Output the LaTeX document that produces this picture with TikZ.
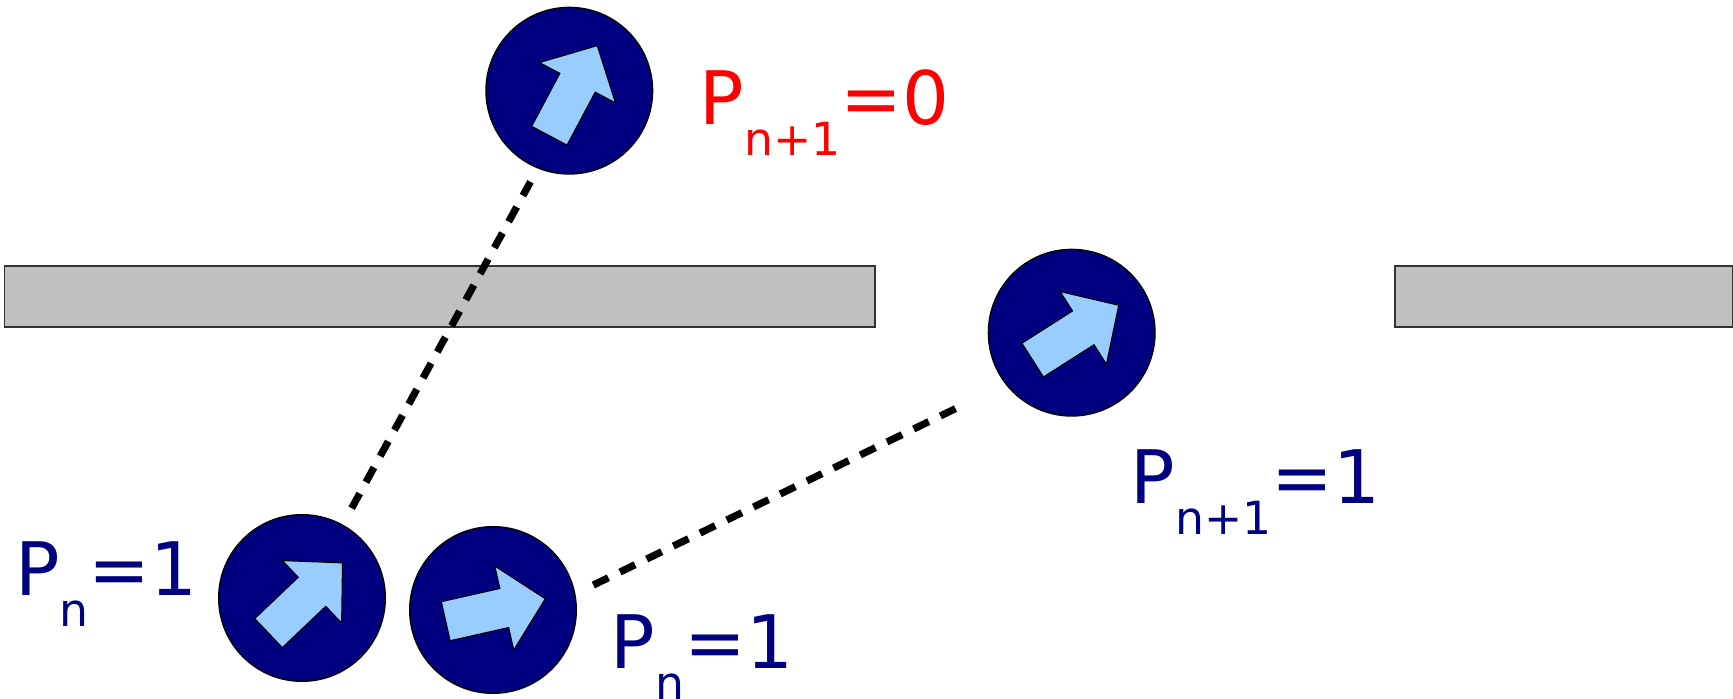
\documentclass[tikz,border=0pt]{standalone}
\usepackage{fontspec}
\setmainfont{DejaVu Sans}
\usepackage{xcolor}
\usepackage{tikz}
\definecolor{navy}{HTML}{000080}
\definecolor{spinblue}{HTML}{99CCFF}
\definecolor{wallgray}{HTML}{C0C0C0}
\newcommand{\plab}[2]{P\raisebox{-0.31cm}{\fontsize{13}{14}\selectfont #1}=#2}

\begin{document}
\begin{tikzpicture}[font=\fontsize{21}{21}\selectfont,
  particle/.style={circle,draw=black,line width=0.4pt,fill=navy,minimum size=1.666cm,inner sep=0pt,outer sep=0pt},
  wall/.style={draw=black!80,line width=0.5pt,fill=wallgray},
  link/.style={line width=0.072cm,dash pattern=on 0.168cm off 0.129cm},
  prob/.style={anchor=base west,inner sep=0pt},
  pics/spin/.style={code={
    \filldraw[fill=spinblue,draw=black,line width=0.3pt] (-0.51,-0.2) -- (0.09,-0.2) -- (0.09,-0.43) -- (0.51,0) -- (0.09,0.43) -- (0.09,0.2) -- (-0.51,0.2) -- cycle;
  }}]
\useasboundingbox (0,0) rectangle (17.33,6.99);
\draw[wall] (0.045,3.717) rectangle (8.75,4.33);
\draw[wall] (13.95,3.717) rectangle (17.325,4.33);

\node[particle] (ptop) at (5.693,6.083) {};
\node[particle] (pright) at (10.717,3.663) {};
\node[particle] (pleft) at (3.02,1.01) {};
\node[particle] (pmid) at (4.93,0.89) {};

\pic[xshift=0.4mm,rotate=62] at (ptop) {spin};
\pic[xshift=0.4mm,rotate=32.5] at (pright) {spin};
\pic[xshift=0.35mm,rotate=43.5] at (pleft) {spin};
\pic[xshift=0.25mm,rotate=12.7] at (pmid) {spin};

\draw[link,shorten <=0.193cm,shorten >=0.159cm] (pleft.61) -- (ptop.248);
\draw[link,shorten <=0.206cm,shorten >=0.551cm] (pmid.11) -- (pright.218);

\node[prob,text=red] (ltop) at (6.99,5.74) {\plab{n+1}{0}};
\node[prob,text=navy] (lright) at (11.30,1.957) {\plab{n+1}{1}};
\node[prob,text=navy] (lleft) at (0.144,1.033) {\plab{n}{1}};
\node[prob,text=navy] (lmid) at (6.10,0.307) {\plab{n}{1}};
\end{tikzpicture}
\end{document}
